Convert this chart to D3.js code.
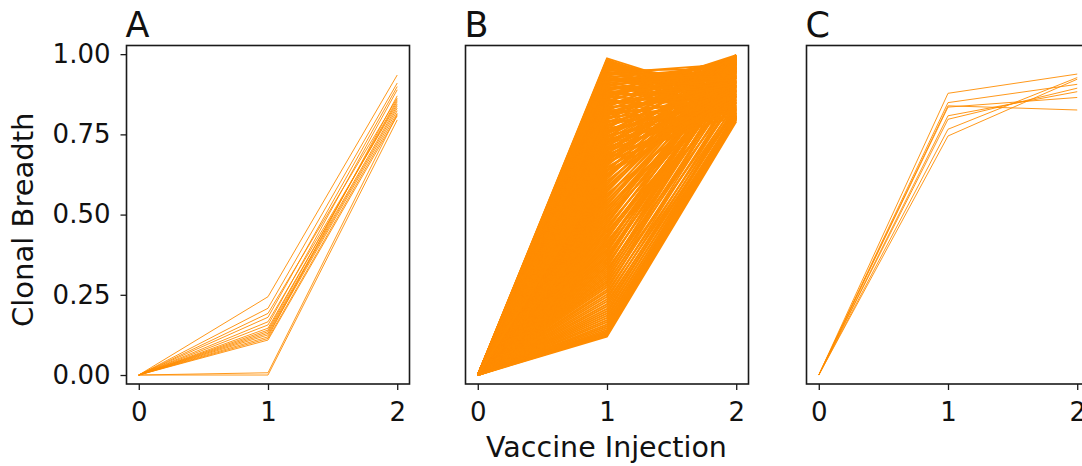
<!DOCTYPE html>
<html>
<head>
<meta charset="utf-8">
<script src="https://cdn.jsdelivr.net/npm/d3@7"></script>
<style>
  html, body { margin: 0; padding: 0; background: #fff; }
  svg { display: block; font-family: "DejaVu Sans", sans-serif; }
</style>
</head>
<body>
<svg id="chart" width="1082" height="466"></svg>
<script>
// Clonal breadth after each vaccine injection (0 = baseline), one line per clone
const injections = [0, 1, 2];
const xTickLabels = ["0", "1", "2"];
const yTicks = [0, 0.25, 0.5, 0.75, 1.0];
const yTickLabels = ["0.00", "0.25", "0.50", "0.75", "1.00"];
const panelTitles = ["A", "B", "C"];

// Panel A
const aAfter1 = [0.244, 0.208, 0.192, 0.18, 0.166, 0.156, 0.146, 0.14, 0.135, 0.13, 0.125, 0.119, 0.114, 0.109, 0.007, 0];
const aAfter2 = [0.935, 0.91, 0.863, 0.899, 0.845, 0.889, 0.852, 0.858, 0.839, 0.832, 0.824, 0.87, 0.816, 0.808, 0.812, 0.795];

// Panel B
const bAfter1 = [
  0.987, 0.982, 0.978, 0.975, 0.971, 0.968, 0.964, 0.961, 0.957, 0.953,
  0.948, 0.944, 0.941, 0.937, 0.933, 0.928, 0.925, 0.921, 0.917, 0.912,
  0.908, 0.903, 0.899, 0.894, 0.889, 0.885, 0.88, 0.876, 0.871, 0.866,
  0.861, 0.855, 0.85, 0.846, 0.84, 0.835, 0.829, 0.824, 0.818, 0.813,
  0.807, 0.801, 0.796, 0.79, 0.784, 0.779, 0.773, 0.767, 0.762, 0.756,
  0.75, 0.744, 0.739, 0.733, 0.727, 0.721, 0.716, 0.71, 0.704, 0.698,
  0.692, 0.687, 0.681, 0.675, 0.669, 0.663, 0.658, 0.652, 0.646, 0.64,
  0.634, 0.628, 0.622, 0.617, 0.611, 0.605, 0.599, 0.593, 0.587, 0.582,
  0.576, 0.57, 0.564, 0.558, 0.552, 0.546, 0.541, 0.535, 0.529, 0.523,
  0.517, 0.511, 0.505, 0.499, 0.494, 0.488, 0.482, 0.476, 0.47, 0.464,
  0.458, 0.452, 0.447, 0.441, 0.435, 0.429, 0.423, 0.417, 0.411, 0.406,
  0.4, 0.394, 0.388, 0.382, 0.376, 0.371, 0.365, 0.359, 0.353, 0.347,
  0.341, 0.336, 0.33, 0.324, 0.318, 0.312, 0.306, 0.3, 0.294, 0.288,
  0.281, 0.274, 0.266, 0.259, 0.251, 0.244, 0.236, 0.229, 0.221, 0.214,
  0.206, 0.199, 0.192, 0.185, 0.178, 0.171, 0.165, 0.158, 0.152, 0.146,
  0.141, 0.136, 0.132, 0.128, 0.124, 0.12,
  0.983, 0.969, 0.959, 0.946, 0.935, 0.923, 0.914, 0.906, 0.897, 0.887,
  0.878, 0.868, 0.858, 0.848, 0.838, 0.826, 0.815, 0.804, 0.793, 0.781,
  0.77, 0.759, 0.747, 0.736, 0.724, 0.712, 0.701, 0.689, 0.677, 0.665,
  0.951, 0.939, 0.926, 0.916, 0.902, 0.891, 0.882, 0.873, 0.863, 0.852,
  0.843, 0.832, 0.821, 0.81, 0.798, 0.787, 0.775, 0.764, 0.753, 0.741,
  0.73, 0.718, 0.706, 0.694, 0.683, 0.671, 0.659, 0.648, 0.636, 0.624
];
const bAfter2 = [
  0.86, 0.852, 0.871, 0.838, 0.884, 0.862, 0.905, 0.877, 0.918, 0.893,
  0.955, 0.931, 0.97, 0.944, 0.902, 0.962, 0.886, 0.95, 0.967, 0.925,
  0.978, 0.941, 0.984, 0.912, 0.958, 0.989, 0.934, 0.973, 0.951, 0.997,
  0.993, 0.962, 0.99, 0.925, 0.981, 0.995, 0.947, 0.986, 0.9, 0.976,
  0.994, 0.958, 0.983, 0.87, 0.991, 0.939, 0.975, 0.996, 0.917, 0.969,
  0.987, 0.945, 0.998, 0.96, 0.895, 0.982, 0.953, 0.99, 0.928, 0.972,
  0.964, 0.992, 0.908, 0.979, 0.943, 0.997, 0.956, 0.985, 0.866, 0.967,
  0.991, 0.933, 0.976, 0.954, 0.988, 0.915, 0.971, 0.995, 0.948, 0.98,
  0.959, 0.986, 0.892, 0.968, 0.993, 0.937, 0.977, 0.952, 0.989, 0.921,
  0.974, 0.944, 0.99, 0.961, 0.905, 0.983, 0.95, 0.971, 0.996, 0.929,
  0.966, 0.985, 0.912, 0.957, 0.978, 0.94, 0.992, 0.881, 0.963, 0.947,
  0.975, 0.926, 0.958, 0.987, 0.899, 0.969, 0.935, 0.954, 0.981, 0.913,
  0.948, 0.972, 0.876, 0.932, 0.96, 0.905, 0.943, 0.889, 0.927, 0.859,
  0.918, 0.871, 0.901, 0.848, 0.886, 0.837, 0.869, 0.826, 0.852, 0.83,
  0.841, 0.816, 0.834, 0.809, 0.822, 0.803, 0.818, 0.806, 0.812, 0.8,
  0.807, 0.798, 0.804, 0.795, 0.801, 0.79,
  0.812, 0.826, 0.805, 0.843, 0.818, 0.856, 0.829, 0.81, 0.847, 0.822,
  0.867, 0.835, 0.808, 0.851, 0.827, 0.814, 0.862, 0.833, 0.803, 0.845,
  0.82, 0.873, 0.838, 0.811, 0.858, 0.826, 0.842, 0.806, 0.85, 0.817,
  0.915, 0.928, 0.896, 0.934, 0.882, 0.921, 0.907, 0.889, 0.913, 0.875,
  0.898, 0.884, 0.91, 0.869, 0.892, 0.878, 0.903, 0.864, 0.887, 0.872,
  0.894, 0.857, 0.881, 0.868, 0.9, 0.86, 0.883, 0.871, 0.854, 0.876
];

// Panel C
const cAfter1 = [0.878, 0.849, 0.839, 0.835, 0.808, 0.797, 0.766, 0.745];
const cAfter2 = [0.938, 0.906, 0.826, 0.865, 0.883, 0.894, 0.927, 0.922];

const lineColor = "#ff8c00";
const frameColor = "#1a1a1a";

// Each clone becomes a [value at 0, value after 1, value after 2] series
function toSeries(after1, after2) {
  return after1.map((v, i) => [0, v, after2[i]]);
}
const panels = [
  { title: panelTitles[0], series: toSeries(aAfter1, aAfter2), yAxis: true,  width: 0.9 },
  { title: panelTitles[1], series: toSeries(bAfter1, bAfter2), yAxis: false, width: 1.9 },
  { title: panelTitles[2], series: toSeries(cAfter1, cAfter2), yAxis: false, width: 0.9 }
];

const svg = d3.select("#chart");
const panelLefts = [126.5, 465.5, 806.5];
const plotTop = 45.5, pw = 283, ph = 338.5;

const x = d3.scaleLinear().domain([-0.095, 2.095]).range([0, pw]);
const y = d3.scaleLinear().domain([-0.028, 1.027]).range([ph, 0]);

const line = d3.line()
  .x((d, i) => x(injections[i]))
  .y(d => y(d));

panels.forEach((p, k) => {
  const g = svg.append("g").attr("transform", `translate(${panelLefts[k]},${plotTop})`);

  g.append("g")
    .selectAll("path")
    .data(p.series)
    .join("path")
    .attr("d", line)
    .attr("fill", "none")
    .attr("stroke", lineColor)
    .attr("stroke-width", p.width)
    .attr("stroke-linejoin", "round");

  // x axis
  const xa = g.append("g")
    .attr("transform", `translate(0,${ph})`)
    .call(d3.axisBottom(x).tickValues(injections)
      .tickFormat((d, i) => xTickLabels[i]).tickSize(6).tickPadding(13));
  xa.select(".domain").remove();
  xa.selectAll("line").attr("stroke", frameColor).attr("stroke-width", 1.3);
  xa.selectAll("text").attr("font-size", 26).attr("fill", "#111")
    .attr("font-family", "DejaVu Sans");

  if (p.yAxis) {
    const ya = g.append("g")
      .call(d3.axisLeft(y).tickValues(yTicks)
        .tickFormat((d, i) => yTickLabels[i]).tickSize(6).tickPadding(10));
    ya.select(".domain").remove();
    ya.selectAll("line").attr("stroke", frameColor).attr("stroke-width", 1.3);
    ya.selectAll("text").attr("font-size", 26).attr("fill", "#111")
      .attr("font-family", "DejaVu Sans");
  }

  // frame
  g.append("rect")
    .attr("x", 0).attr("y", 0).attr("width", pw).attr("height", ph)
    .attr("fill", "none").attr("stroke", frameColor).attr("stroke-width", 1.6);

  // panel letter
  g.append("text")
    .attr("x", -1).attr("y", -8.5)
    .attr("font-size", 35)
    .attr("fill", "#111")
    .text(p.title);
});

// axis titles
svg.append("text")
  .attr("transform", `translate(33,${plotTop + ph / 2 + 5}) rotate(-90)`)
  .attr("text-anchor", "middle")
  .attr("font-size", 29)
  .attr("fill", "#111")
  .text("Clonal Breadth");

svg.append("text")
  .attr("x", 606.5).attr("y", 457)
  .attr("text-anchor", "middle")
  .attr("font-size", 28.5)
  .attr("fill", "#111")
  .text("Vaccine Injection");
</script>
</body>
</html>
